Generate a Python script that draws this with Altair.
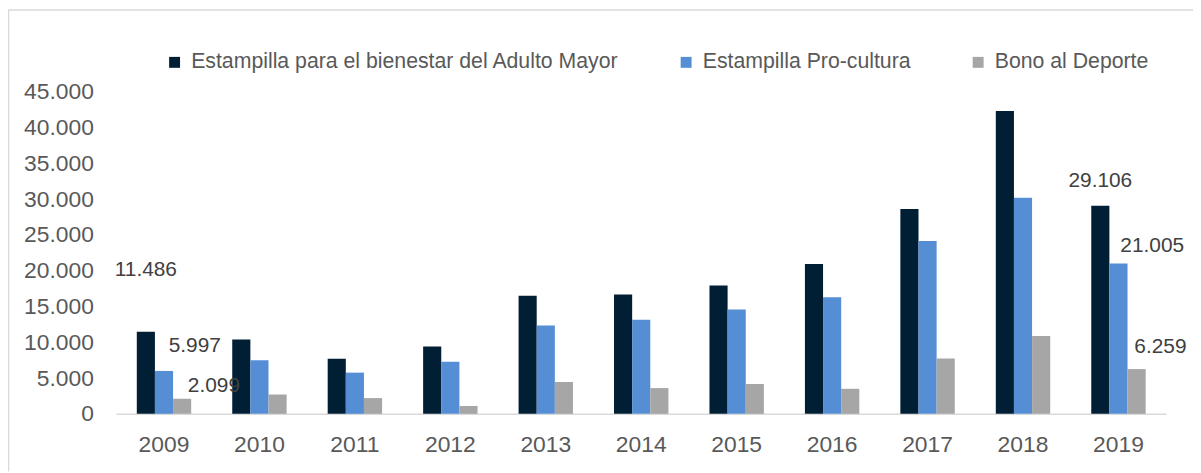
import altair as alt
import pandas as pd

years = ["2009", "2010", "2011", "2012", "2013", "2014", "2015", "2016", "2017", "2018", "2019"]
series = [
    "Estampilla para el bienestar del Adulto Mayor",
    "Estampilla Pro-cultura",
    "Bono al Deporte",
]
adulto_mayor = [11486, 10400, 7700, 9400, 16500, 16700, 17950, 20950, 28650, 42350, 29106]
pro_cultura = [5997, 7480, 5760, 7270, 12360, 13150, 14600, 16300, 24150, 30200, 21005]
deporte = [2099, 2700, 2200, 1100, 4450, 3600, 4170, 3500, 7750, 10900, 6259]
y_ticks = [0, 5000, 10000, 15000, 20000, 25000, 30000, 35000, 40000, 45000]
colors = ["#001F35", "#558ED5", "#A6A6A6"]

rows = []
for name, vals in zip(series, [adulto_mayor, pro_cultura, deporte]):
    for yr, v in zip(years, vals):
        rows.append({"year": yr, "series": name, "value": v})
df = pd.DataFrame(rows)

FONT = "Liberation Sans"
W, H = 1057, 324
PAD_L, PAD_T, PAD_R, PAD_B = 109, 83, 27, 58

x_enc = alt.X(
    "year:N",
    sort=years,
    scale=alt.Scale(paddingInner=0.43, paddingOuter=0.215),
    axis=alt.Axis(
        title=None, labelAngle=0, ticks=False, domainColor="#D9D9D9", domainWidth=1.5,
        labelFont=FONT, labelFontSize=23, labelColor="#595959", labelPadding=20,
    ),
)
xoff_enc = alt.XOffset("series:N", sort=series, scale=alt.Scale(paddingInner=0, paddingOuter=0))
y_enc = alt.Y(
    "value:Q",
    scale=alt.Scale(domain=[0, 45000], nice=False),
    axis=alt.Axis(
        title=None, values=y_ticks, grid=False, ticks=False, domain=False,
        labelFont=FONT, labelFontSize=23, labelColor="#595959", labelPadding=23,
        labelExpr="replace(format(datum.value, ','), ',', '.')",
    ),
)

base = alt.Chart(df)

bars = base.mark_bar().encode(
    x=x_enc,
    xOffset=xoff_enc,
    y=y_enc,
    color=alt.Color(
        "series:N",
        sort=series,
        scale=alt.Scale(domain=series, range=colors),
        legend=alt.Legend(
            title=None, orient="none", direction="horizontal", legendX=48, legendY=-41,
            symbolType="square", symbolSize=121, symbolStrokeWidth=0,
            labelFont=FONT, labelFontSize=21.4, labelColor="#595959", labelOffset=6,
            columnPadding=57, padding=0, labelLimit=600,
        ),
    ),
)

offsets = {
    ("2009", 0): (0, -62), ("2009", 1): (31, -25), ("2009", 2): (32, -13),
    ("2019", 0): (0, -25), ("2019", 1): (34, -18), ("2019", 2): (24, -22),
}
label_layers = []
for (yr, si), (dx, dy) in offsets.items():
    label_layers.append(
        base.transform_filter(
            (alt.datum.year == yr) & (alt.datum.series == series[si])
        ).transform_calculate(
            label="replace(format(datum.value, ','), ',', '.')"
        ).mark_text(
            font=FONT, fontSize=21, color="#404040", align="center", baseline="middle", dx=dx, dy=dy
        ).encode(x=x_enc, xOffset=xoff_enc, y=y_enc, text="label:N")
    )

one = alt.Data(values=[{"a": 1}])
left_border = alt.Chart(one).mark_rule(color="#D9D9D9", strokeWidth=1.5).encode(
    x=alt.value(-108.5), y=alt.value(-83), y2=alt.value(H + PAD_B)
)
top_border = alt.Chart(one).mark_rule(color="#D9D9D9", strokeWidth=1.5).encode(
    x=alt.value(-108.5), x2=alt.value(W + PAD_R), y=alt.value(-82.5)
)

chart = alt.layer(bars, *label_layers, left_border, top_border).properties(
    width=W, height=H,
    autosize=alt.AutoSizeParams(type="none"),
    padding={"left": PAD_L, "top": PAD_T, "right": PAD_R, "bottom": PAD_B},
).configure(background="white").configure_view(stroke=None)

chart.save("out.html", embed_options={"renderer": "svg", "actions": False})
